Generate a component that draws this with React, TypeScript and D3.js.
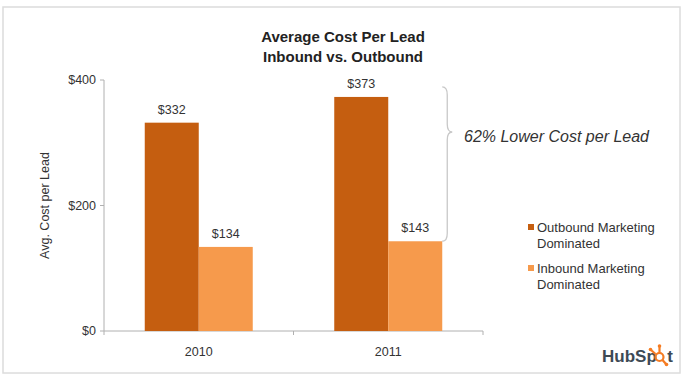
import React from "react";
import * as d3 from "d3";

const years = ["2010", "2011"];
const seriesNames = ["Outbound Marketing Dominated", "Inbound Marketing Dominated"];
const outbound = [332, 373];
const inbound = [134, 143];
const yTicks = [0, 200, 400];
const colors = ["#C55E10", "#F69A4C"];

const W = 685;
const H = 378;
const left = 104, right = 483, top = 80, bottom = 331;

export default function App() {
  const x = d3.scaleBand().domain(years).range([left, right]).paddingInner(0).paddingOuter(0);
  const inner = d3.scaleBand().domain(["0", "1"]).range([40.75, x.bandwidth() - 40.75]);
  const y = d3.scaleLinear().domain([0, 400]).range([bottom, top]);
  const values = [outbound, inbound];
  const font = "'Liberation Sans', Arial, sans-serif";

  const bx = (x("2011") as number) + (inner("1") as number) + inner.bandwidth();
  const bTop = y(outbound[1]) - 10;
  const bBot = y(inbound[1]);
  const bMid = 132;
  const bw = 10;
  const bracePath = `M${bx},${bTop} Q${bx + bw / 2},${bTop} ${bx + bw / 2},${bTop + 8} L${bx + bw / 2},${bMid - 8} Q${bx + bw / 2},${bMid} ${bx + bw},${bMid} Q${bx + bw / 2},${bMid} ${bx + bw / 2},${bMid + 8} L${bx + bw / 2},${bBot - 8} Q${bx + bw / 2},${bBot} ${bx},${bBot}`;

  return (
    <svg width={W} height={H} style={{ position: "absolute", left: 0, top: 0, background: "#fff" }} fontFamily={font}>
      <rect x={0} y={0} width={W} height={H} fill="#fff" />
      <rect x={3} y={7} width={677} height={366} fill="none" stroke="#dcdcdc" strokeWidth={1.5} />
      <text x={343} y={42} textAnchor="middle" fontSize={15} fontWeight="bold" fill="#222">Average Cost Per Lead</text>
      <text x={343} y={62} textAnchor="middle" fontSize={15} fontWeight="bold" fill="#222">Inbound vs. Outbound</text>

      <line x1={left} x2={left} y1={y(400)} y2={y(0)} stroke="#b0b0b0" />
      {yTicks.map((t) => (
        <g key={t}>
          <line x1={left - 4} x2={left} y1={y(t)} y2={y(t)} stroke="#b0b0b0" />
          <text x={96} y={y(t) + 4} textAnchor="end" fontSize={12.5} fill="#333">${t}</text>
        </g>
      ))}
      <text transform={`translate(49,${(y(0) + y(400)) / 2}) rotate(-90)`} textAnchor="middle" fontSize={12.5} fill="#333">Avg. Cost per Lead</text>

      <line x1={left} x2={right} y1={bottom} y2={bottom} stroke="#b0b0b0" />
      {[left, ...years.map((yr) => (x(yr) as number) + x.bandwidth())].map((px, i) => (
        <line key={i} x1={px} x2={px} y1={bottom} y2={bottom + 4} stroke="#b0b0b0" />
      ))}
      {years.map((yr) => (
        <text key={yr} x={(x(yr) as number) + x.bandwidth() / 2} y={356} textAnchor="middle" fontSize={12.5} fill="#333">{yr}</text>
      ))}

      {years.map((yr, i) =>
        values.map((vals, s) => {
          const bx0 = (x(yr) as number) + (inner(String(s)) as number);
          const v = vals[i];
          return (
            <g key={yr + s}>
              <rect x={bx0} y={y(v)} width={inner.bandwidth()} height={y(0) - y(v)} fill={colors[s]} />
              <text x={bx0 + inner.bandwidth() / 2} y={y(v) - 9} textAnchor="middle" fontSize={12.5} fill="#333">${v}</text>
            </g>
          );
        })
      )}

      <path d={bracePath} fill="none" stroke="#c8c8c8" strokeWidth={1.3} />
      <text x={464} y={142} fontSize={16} fontStyle="italic" fill="#333">62% Lower Cost per Lead</text>

      {seriesNames.map((name, s) => {
        const words = name.split(" ");
        const l1 = words.slice(0, 2).join(" ");
        const l2 = words.slice(2).join(" ");
        const ly = 232 + s * 41;
        return (
          <g key={name}>
            <rect x={528} y={ly - 8} width={6} height={6} fill={colors[s]} />
            <text x={537} y={ly} fontSize={13} fill="#333">{l1}</text>
            <text x={537} y={ly + 16} fontSize={13} fill="#333">{l2}</text>
          </g>
        );
      })}

      <text x={602} y={362} fontSize={17} fontWeight="bold" fill="#3d4a55">
        HubSp<tspan fill="#3d4a55" opacity={0}>o</tspan>t
      </text>
      <g stroke="#f57c22" strokeWidth={2.2} fill="none">
        <circle cx={659.5} cy={357} r={4} />
        <line x1={659.5} y1={353} x2={659.5} y2={347} />
        <line x1={655.5} y1={354} x2={651} y2={350} />
        <line x1={662.5} y1={360} x2={666} y2={364} />
      </g>
      <g fill="#f57c22">
        <circle cx={659.5} cy={346} r={1.8} />
        <circle cx={650.5} cy={349.5} r={1.8} />
        <circle cx={666.5} cy={364.5} r={1.8} />
      </g>
    </svg>
  );
}
